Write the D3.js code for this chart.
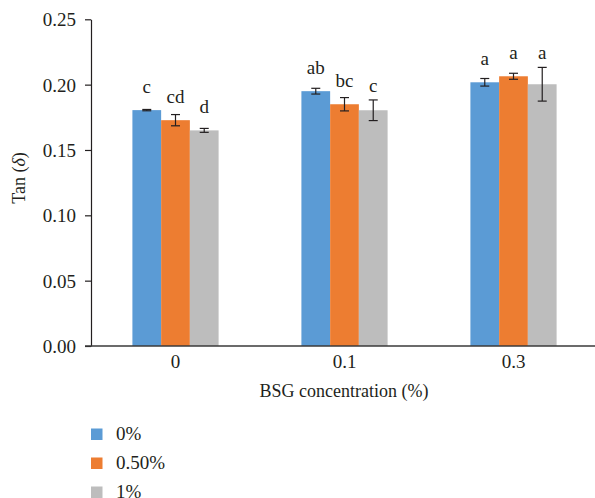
<!DOCTYPE html>
<html>
<head>
<meta charset="utf-8">
<script src="https://cdn.jsdelivr.net/npm/d3@7"></script>
<style>
    body { margin: 0; background: #fff; }
    svg text { font-family: "Liberation Serif", "Times New Roman", serif; fill: #231f20; }
</style>
</head>
<body>
<svg id="chart" width="595" height="498"></svg>
<script>

const categories = ['0', '0.1', '0.3'];
const series = ['0%', '0.50%', '1%'];
const colors = ['#5b9bd5', '#ed7d31', '#bdbdbd'];

const means = [
    [0.1805, 0.1950, 0.2018],
    [0.1728, 0.1850, 0.2064],
    [0.1650, 0.1804, 0.2003]
];
const errors = [
    [0.0005, 0.0022, 0.0029],
    [0.0043, 0.0051, 0.0023],
    [0.0015, 0.0079, 0.0129]
];
const letters = [
    ['c', 'ab', 'a'],
    ['cd', 'bc', 'a'],
    ['d', 'c', 'a']
];
const yTicks = [0, 0.05, 0.10, 0.15, 0.20, 0.25];

const svg = d3.select('#chart');

const plotLeft = 91, plotRight = 598, plotTop = 19.3, plotBottom = 346;

const x0 = d3.scaleBand()
    .domain(categories)
    .range([plotLeft, plotRight])
    .paddingInner(0.49)
    .paddingOuter(0.245);

const x1 = d3.scaleBand()
    .domain(series)
    .range([0, x0.bandwidth()]);

const y = d3.scaleLinear()
    .domain([0, 0.25])
    .range([plotBottom, plotTop]);

// flatten into bar records
const bars = [];
series.forEach(function (s, si) {
    categories.forEach(function (c, ci) {
        bars.push({
            series: s, si: si, cat: c,
            value: means[si][ci],
            err: errors[si][ci],
            letter: letters[si][ci]
        });
    });
});

// bars
svg.append('g')
    .selectAll('rect')
    .data(bars)
    .enter()
    .append('rect')
    .attr('x', d => x0(d.cat) + x1(d.series))
    .attr('y', d => y(d.value))
    .attr('width', x1.bandwidth())
    .attr('height', d => y(0) - y(d.value))
    .style('fill', d => colors[d.si]);

// error bars
const eb = svg.append('g')
    .selectAll('g')
    .data(bars)
    .enter()
    .append('g')
    .attr('transform', d => 'translate(' + (x0(d.cat) + x1(d.series) + x1.bandwidth() / 2) + ',0)')
    .style('stroke', '#231f20')
    .style('stroke-width', 1.2);

eb.append('line')
    .attr('x1', 0).attr('x2', 0)
    .attr('y1', d => y(d.value - d.err))
    .attr('y2', d => y(d.value + d.err));
eb.append('line')
    .attr('x1', -4.5).attr('x2', 4.5)
    .attr('y1', d => y(d.value + d.err))
    .attr('y2', d => y(d.value + d.err));
eb.append('line')
    .attr('x1', -4.5).attr('x2', 4.5)
    .attr('y1', d => y(d.value - d.err))
    .attr('y2', d => y(d.value - d.err));

// significance letters
svg.append('g')
    .selectAll('text')
    .data(bars)
    .enter()
    .append('text')
    .attr('x', d => x0(d.cat) + x1(d.series) + x1.bandwidth() / 2)
    .attr('y', d => Math.min(y(d.value) - 17, y(d.value + d.err) - 8))
    .attr('text-anchor', 'middle')
    .style('font-size', '19px')
    .text(d => d.letter);

// y axis
const yAxis = svg.append('g')
    .attr('transform', 'translate(' + plotLeft + ',0)')
    .call(d3.axisLeft(y).tickValues(yTicks).tickFormat(d3.format('.2f')).tickSize(6).tickSizeOuter(0));
yAxis.select('.domain').attr('stroke', '#231f20').attr('stroke-width', 1.2);
yAxis.selectAll('.tick line').attr('stroke', '#231f20').attr('stroke-width', 1.2);
yAxis.selectAll('.tick text')
    .attr('x', -15)
    .attr('dy', '0.34em')
    .style('font-size', '19px')
    .style('font-family', '"Liberation Serif", serif')
    .attr('fill', '#231f20');

// x axis line
svg.append('line')
    .attr('x1', 85).attr('x2', 595)
    .attr('y1', y(0)).attr('y2', y(0))
    .style('stroke', '#3a3a3a')
    .style('stroke-width', 1.5);

// x category labels
svg.append('g')
    .selectAll('text')
    .data(categories)
    .enter()
    .append('text')
    .attr('x', d => x0(d) + x0.bandwidth() / 2)
    .attr('y', 368)
    .attr('text-anchor', 'middle')
    .style('font-size', '19px')
    .text(d => d);

// axis titles
svg.append('text')
    .attr('x', 344)
    .attr('y', 397)
    .attr('text-anchor', 'middle')
    .style('font-size', '18px')
    .text('BSG concentration (%)');

const yTitle = svg.append('text')
    .attr('transform', 'translate(25,178) rotate(-90)')
    .attr('text-anchor', 'middle')
    .style('font-size', '18px');
yTitle.append('tspan').text('Tan (');
yTitle.append('tspan').style('font-style', 'italic').text('δ');
yTitle.append('tspan').text(')');

// legend
const legend = svg.append('g')
    .selectAll('g')
    .data(series)
    .enter()
    .append('g')
    .attr('transform', (d, i) => 'translate(91,' + (428.5 + i * 29) + ')');

legend.append('rect')
    .attr('width', 11.5)
    .attr('height', 11.5)
    .style('fill', (d, i) => colors[i]);

legend.append('text')
    .attr('x', 25)
    .attr('y', 11)
    .style('font-size', '19px')
    .text(d => d);

</script>
</body>
</html>
